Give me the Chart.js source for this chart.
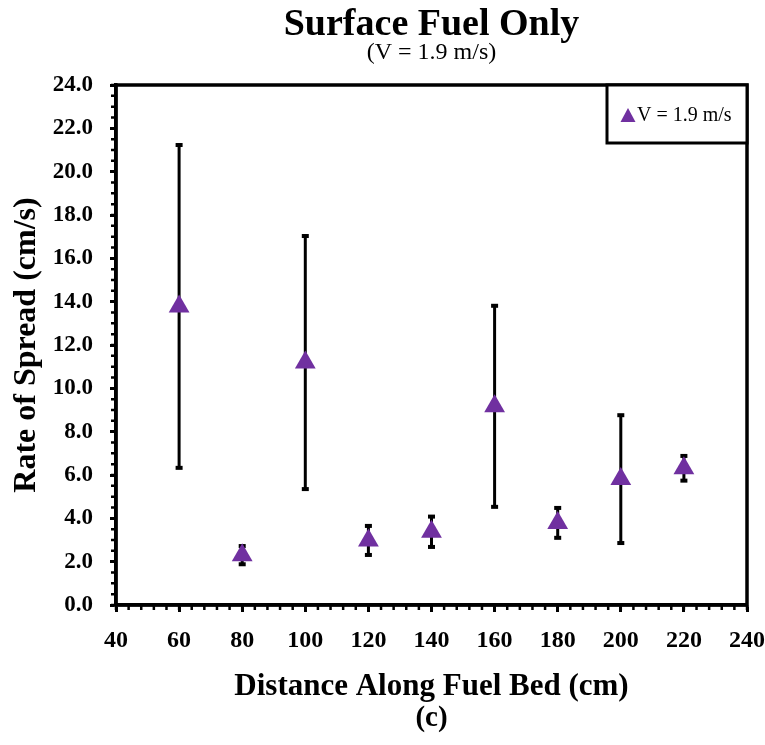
<!DOCTYPE html>
<html>
<head>
<meta charset="utf-8">
<title>Surface Fuel Only</title>
<script src="https://cdn.jsdelivr.net/npm/chart.js@4.4.0/dist/chart.umd.min.js"></script>
<style>
  html, body { margin: 0; padding: 0; background: #fff; }
  #wrap { width: 765px; height: 745px; }
</style>
</head>
<body>
<div id="wrap"><canvas id="rosChart"></canvas></div>
<script>
// distance along fuel bed (cm)
var distance = [60, 80, 100, 120, 140, 160, 180, 200, 220];
// mean rate of spread (cm/s)
var rateOfSpread = [13.78, 2.3, 11.19, 2.98, 3.38, 9.17, 3.79, 5.81, 6.31];
// error bar half-length (cm/s)
var rateError = [7.45, 0.42, 5.84, 0.67, 0.7, 4.64, 0.69, 2.95, 0.57];

var serif = "'Liberation Serif', 'Times New Roman', serif";
var purple = '#7030A0';

// error bars drawn under the markers
var errorBars = {
    id: 'errorBars',
    beforeDatasetsDraw: function (chart) {
        var ctx = chart.ctx;
        var xs = chart.scales.x, ys = chart.scales.y;
        ctx.save();
        ctx.strokeStyle = '#000';
        ctx.fillStyle = '#000';
        ctx.lineWidth = 3;
        distance.forEach(function (d, i) {
            var x = xs.getPixelForValue(d);
            var yTop = ys.getPixelForValue(rateOfSpread[i] + rateError[i]);
            var yBot = ys.getPixelForValue(rateOfSpread[i] - rateError[i]);
            ctx.beginPath();
            ctx.moveTo(x, yTop);
            ctx.lineTo(x, yBot);
            ctx.stroke();
            ctx.fillRect(x - 3.5, yTop - 2, 7, 4);
            ctx.fillRect(x - 3.5, yBot - 2, 7, 4);
        });
        ctx.restore();
    }
};

// frame, minor ticks, legend box and panel label
var decorations = {
    id: 'decorations',
    afterDraw: function (chart) {
        var ctx = chart.ctx;
        var a = chart.chartArea;
        var xs = chart.scales.x, ys = chart.scales.y;
        ctx.save();
        ctx.strokeStyle = '#000';
        ctx.lineWidth = 3.5;
        ctx.strokeRect(a.left, a.top, a.right - a.left, a.bottom - a.top);

        // minor ticks
        ctx.lineWidth = 2.5;
        ctx.beginPath();
        for (var v = 0; v <= 24; v += 0.5) {
            var py = ys.getPixelForValue(v);
            ctx.moveTo(a.left, py);
            ctx.lineTo(a.left - 5, py);
        }
        for (var u = 40; u <= 240; u += 4) {
            var px = xs.getPixelForValue(u);
            ctx.moveTo(px, a.bottom);
            ctx.lineTo(px, a.bottom + 5);
        }
        ctx.stroke();

        // legend inside the plot, top right
        var lx = 607, ly = a.top, lw = a.right - 607, lh = 58;
        ctx.fillStyle = '#fff';
        ctx.fillRect(lx, ly, lw, lh);
        ctx.lineWidth = 3;
        ctx.strokeRect(lx, ly, lw, lh);
        ctx.fillStyle = purple;
        ctx.beginPath();
        ctx.moveTo(628, ly + 23);
        ctx.lineTo(635.5, ly + 37);
        ctx.lineTo(620.5, ly + 37);
        ctx.closePath();
        ctx.fill();
        ctx.fillStyle = '#000';
        ctx.font = '20px ' + serif;
        ctx.textAlign = 'left';
        ctx.textBaseline = 'middle';
        ctx.fillText(chart.data.datasets[0].label, 637, ly + 31);

        // panel label
        ctx.font = 'bold 29px ' + serif;
        ctx.textAlign = 'center';
        ctx.fillText('(c)', (a.left + a.right) / 2, 719);
        ctx.restore();
    }
};

var ctx = document.getElementById('rosChart').getContext('2d');
var chart = new Chart(ctx, {
    type: 'scatter',
    data: {
        datasets: [{
            label: 'V = 1.9 m/s',
            data: distance.map(function (d, i) { return { x: d, y: rateOfSpread[i] }; }),
            pointStyle: 'triangle',
            pointRadius: 12,
            pointHoverRadius: 12,
            backgroundColor: purple,
            borderColor: purple,
            borderWidth: 0
        }]
    },
    options: {
        responsive: true,
        maintainAspectRatio: false,
        animation: false,
        layout: { padding: { left: 0, right: 18, top: 0, bottom: 0 } },
        plugins: {
            legend: { display: false },
            tooltip: { enabled: false },
            title: {
                display: true,
                fullSize: false,
                text: 'Surface Fuel Only',
                color: '#000',
                font: { family: serif, size: 38, weight: 'bold', lineHeight: 0.8 },
                padding: { top: 10, bottom: 0 }
            },
            subtitle: {
                display: true,
                fullSize: false,
                text: '(V = 1.9 m/s)',
                color: '#000',
                font: { family: serif, size: 24, weight: 'normal', lineHeight: 1.0 },
                padding: { top: 0, bottom: 20.6 }
            }
        },
        scales: {
            x: {
                type: 'linear',
                min: 40,
                max: 240,
                afterFit: function (scale) {
                    scale.height = 140;
                    scale.paddingRight = 0;
                },
                ticks: {
                    stepSize: 20,
                    color: '#000',
                    padding: 14,
                    maxRotation: 0,
                    font: { family: serif, size: 24, weight: 'bold' }
                },
                grid: {
                    drawOnChartArea: false,
                    tickLength: 7,
                    tickWidth: 3,
                    tickColor: '#000'
                },
                border: { display: true, color: '#000', width: 3.5 },
                title: {
                    display: true,
                    text: 'Distance Along Fuel Bed (cm)',
                    color: '#000',
                    font: { family: serif, size: 31, weight: 'bold' },
                    padding: { top: 0, bottom: 39 }
                }
            },
            y: {
                type: 'linear',
                min: 0,
                max: 24,
                afterFit: function (scale) { scale.width = 116; },
                ticks: {
                    stepSize: 2,
                    color: '#000',
                    padding: 17,
                    font: { family: serif, size: 23, weight: 'bold' },
                    callback: function (value) { return value.toFixed(1); }
                },
                grid: {
                    drawOnChartArea: false,
                    tickLength: 6,
                    tickWidth: 3,
                    tickColor: '#000'
                },
                border: { display: true, color: '#000', width: 3.5 },
                title: {
                    display: true,
                    text: 'Rate of Spread (cm/s)',
                    color: '#000',
                    font: { family: serif, size: 32, weight: 'bold' },
                    padding: { top: 8, bottom: 0 }
                }
            }
        }
    },
    plugins: [errorBars, decorations]
});
</script>
</body>
</html>
